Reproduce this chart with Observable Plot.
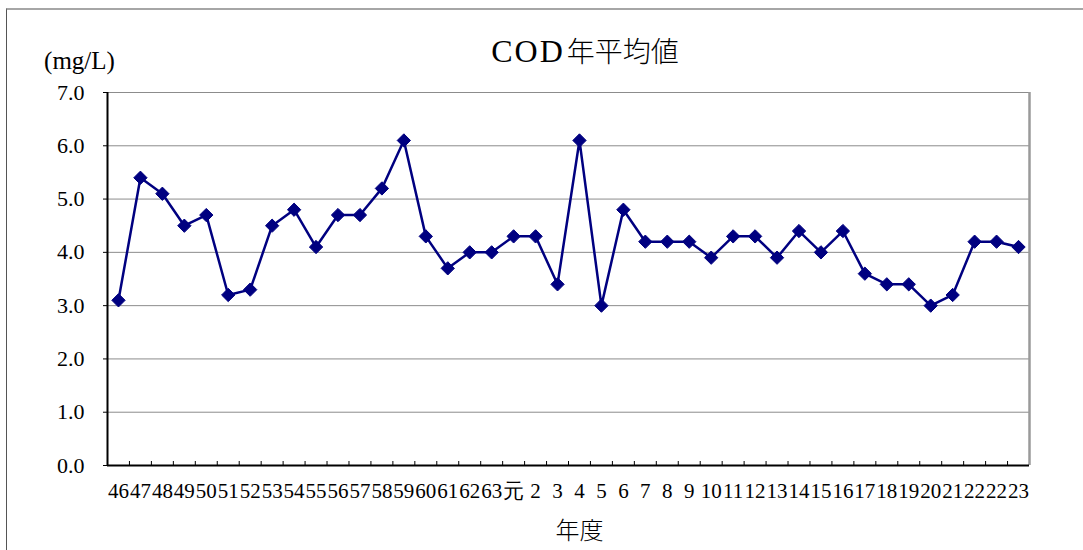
<!DOCTYPE html>
<html><head><meta charset="utf-8">
<script src="https://cdn.jsdelivr.net/npm/d3@7"></script>
<script src="https://cdn.jsdelivr.net/npm/@observablehq/plot@0.6"></script>
<style>
body{margin:0;background:#fff}
#wrap{position:relative;width:1083px;height:550px;overflow:hidden}
#frame{position:absolute;left:6px;top:8px;right:-5px;bottom:-5px;border-top:2px solid #a6a6a6;border-left:1px solid #555}
#wrap svg{position:absolute;left:0;top:0;background:transparent;font-family:"Liberation Serif","Noto Sans CJK JP",serif}
#title{position:absolute;left:0;width:1170px;top:30px;text-align:center;font-size:28px;line-height:40px;white-space:nowrap;z-index:2}
#title .lat{font-family:"Liberation Serif",serif;font-size:32px;letter-spacing:2px;margin-right:2px}
#title .cjk{font-family:"Noto Sans CJK JP",sans-serif;font-weight:300}
</style>
</head><body><div id="wrap"><div id="frame"></div><div id="title"><span class="lat"></span><span class="cjk"></span></div></div>
<script>
const years = ["46","47","48","49","50","51","52","53","54","55","56","57","58","59","60","61","62","63",
  "元","2","3","4","5","6","7","8","9",
  "10","11","12","13","14","15","16","17","18","19","20","21","22","22","23"];
const cod = [3.1,5.4,5.1,4.5,4.7,3.2,3.3,4.5,4.8,4.1,4.7,4.7,5.2,6.1,4.3,3.7,4.0,4.0,
  4.3,4.3,3.4,6.1,3.0,4.8,4.2,4.2,4.2,
  3.9,4.3,4.3,3.9,4.4,4.0,4.4,3.6,3.4,3.4,3.0,3.2,4.2,4.2,4.1];
const yTicks = [0,1,2,3,4,5,6,7];
const titleLatin = "COD";
const titleCJK = "年平均値";
const unitText = "(mg/L)";
const xLabel = "年度";

document.querySelector("#title .lat").textContent = titleLatin;
document.querySelector("#title .cjk").textContent = titleCJK;

const data = cod.map((v, i) => ({i, v}));
const idx = years.map((_, i) => i);
const W = 1083, H = 550, mL = 107, mR = 54, mT = 92, mB = 85;
const step = (W - mL - mR) / years.length;

const chart = Plot.plot({
  width: W, height: H,
  marginLeft: mL, marginRight: mR, marginTop: mT, marginBottom: mB,
  style: {background: "transparent", color: "#000"},
  x: {type: "point", domain: idx, padding: 0.5, align: 0.5},
  y: {domain: [0, 7]},
  marks: [
    Plot.ruleY(yTicks.slice(1), {stroke: "#8c8c8c", strokeWidth: 1}),
    Plot.ruleX([idx[idx.length - 1]], {dx: step / 2, stroke: "#9a9a9a", strokeWidth: 2.5}),
    Plot.ruleX(idx.slice(1), {dx: -step / 2, stroke: "#000", strokeWidth: 1, insetTop: (H - mT - mB) - 4}),
    Plot.ruleX([0], {dx: -step / 2, stroke: "#000", strokeWidth: 2}),
    Plot.ruleY([0], {stroke: "#000", strokeWidth: 2}),
    Plot.axisY({ticks: yTicks, tickFormat: d => d.toFixed(1), tickSize: 4, tickPadding: 19, label: null, fontSize: 22, fontFamily: "Liberation Serif", stroke: "#000"}),
    Plot.axisX({tickSize: 0, tickPadding: 18, tickFormat: i => years[i], label: null, fontSize: 21, fontFamily: "Liberation Serif"}),
    Plot.line(data, {x: "i", y: "v", stroke: "#000080", strokeWidth: 2.5}),
    Plot.dot(data, {x: "i", y: "v", symbol: "diamond2", r: 6, fill: "#000080", stroke: "#000080", strokeWidth: 1}),
    Plot.text([unitText], {frameAnchor: "top-left", textAnchor: "middle", dx: -28, dy: -32, lineAnchor: "middle", fontSize: 25, fontFamily: "Liberation Serif"}),
    Plot.text([xLabel], {frameAnchor: "bottom", dx: 11, dy: 66, lineAnchor: "middle", fontSize: 24, fontFamily: "Noto Sans CJK JP", fontWeight: 300})
  ]
});
document.getElementById("wrap").appendChild(chart);
</script>
</body></html>
